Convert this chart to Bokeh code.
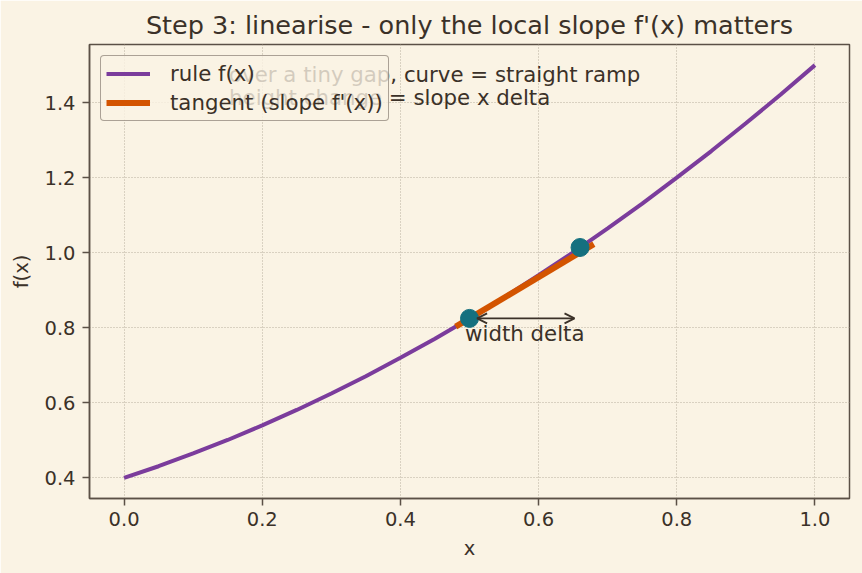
from bokeh.plotting import figure
from bokeh.models import Range1d, Arrow, OpenHead, Legend, LegendItem, FixedTicker, PrintfTickFormatter
from bokeh.core.properties import value
from bokeh.embed import file_html
from bokeh.resources import INLINE

# ---- data ----
curve_x = [0.00, 0.05, 0.10, 0.15, 0.20, 0.25, 0.30, 0.35, 0.40, 0.45, 0.50,
           0.55, 0.60, 0.65, 0.70, 0.75, 0.80, 0.85, 0.90, 0.95, 1.00]
curve_y = [0.400, 0.431, 0.465, 0.501, 0.540, 0.581, 0.625, 0.671, 0.720, 0.771, 0.825,
           0.881, 0.940, 1.001, 1.065, 1.131, 1.200, 1.271, 1.345, 1.421, 1.500]
tangent_x = [0.48, 0.68]
tangent_y = [0.803, 1.023]
point_x = [0.50, 0.66]
point_y = [0.825, 1.014]
x_ticks = [0.0, 0.2, 0.4, 0.6, 0.8, 1.0]
y_ticks = [0.4, 0.6, 0.8, 1.0, 1.2, 1.4]
note_lines = ["over a tiny gap, curve = straight ramp", "height change = slope x delta"]
delta_label = "width delta"

BG = "#faf3e4"
INK = "#3b3128"
SPINE = "#5b5046"
GRID = "#b9af9f"
FONT = "DejaVu Sans"

p = figure(width=862, height=573, output_backend="svg", toolbar_location=None,
           x_range=Range1d(-0.05, 1.05), y_range=Range1d(0.345, 1.555),
           min_border_left=89, min_border_right=13, min_border_top=44, min_border_bottom=75,
           title="Step 3: linearise - only the local slope f'(x) matters")

p.background_fill_color = BG
p.border_fill_color = BG
p.outline_line_color = SPINE
p.outline_line_width = 1.5

p.title.align = "center"
p.title.text_font = FONT
p.title.text_font_size = "25.5px"
p.title.text_font_style = "normal"
p.title.text_color = INK

for ax in (p.xaxis[0], p.yaxis[0]):
    ax.axis_line_color = SPINE
    ax.axis_line_width = 1.5
    ax.major_tick_line_color = SPINE
    ax.major_tick_line_width = 1.5
    ax.major_tick_out = 7
    ax.major_tick_in = 0
    ax.minor_tick_line_color = None
    ax.major_label_text_font = FONT
    ax.major_label_text_font_size = "19.5px"
    ax.major_label_text_color = INK
    ax.axis_label_text_font = FONT
    ax.axis_label_text_font_size = "19.5px"
    ax.axis_label_text_font_style = "normal"
    ax.axis_label_text_color = INK
    ax.formatter = PrintfTickFormatter(format="%.1f")

p.xaxis.ticker = FixedTicker(ticks=x_ticks)
p.yaxis.ticker = FixedTicker(ticks=y_ticks)
p.xaxis.axis_label = "x"
p.yaxis.axis_label = "f(x)"
p.xaxis.major_label_standoff = 6
p.yaxis.major_label_standoff = 7
p.xaxis.axis_label_standoff = 8
p.yaxis.axis_label_standoff = 8

for g in (p.xgrid[0], p.ygrid[0]):
    g.grid_line_color = GRID
    g.grid_line_dash = "1 2"
    g.grid_line_width = 1

# annotation text (behind legend)
p.text(x=[0.152, 0.152], y=[1.474, 1.413], text=note_lines,
       text_font=value(FONT), text_font_size="21.3px", text_color=INK,
       text_align="left", text_baseline="alphabetic")

r_curve = p.line(curve_x, curve_y, line_color="#7b3c9c", line_width=4)
r_tan = p.line(tangent_x, tangent_y, line_color="#d35400", line_width=6)

arrow = Arrow(x_start=point_x[0] + 0.011, y_start=point_y[0],
              x_end=point_x[1] - 0.008, y_end=point_y[0],
              start=OpenHead(size=10, line_color=INK, line_width=1.8),
              end=OpenHead(size=10, line_color=INK, line_width=1.8),
              line_color=INK, line_width=1.8)
p.add_layout(arrow)

p.scatter(point_x, point_y, size=18, fill_color="#15707f", line_color="#15707f", marker="circle")

p.text(x=[(point_x[0] + point_x[1]) / 2], y=[point_y[0] - 0.006], text=[delta_label],
       text_font=value(FONT), text_font_size="21.3px", text_color=INK,
       text_align="center", text_baseline="top")

legend = Legend(items=[LegendItem(label="rule f(x)", renderers=[r_curve]),
                       LegendItem(label="tangent (slope f'(x))", renderers=[r_tan])],
                location="top_left", margin=11, padding=5, spacing=4,
                glyph_width=44, glyph_height=25, label_standoff=20,
                label_text_font=FONT, label_text_font_size="21.3px", label_text_color=INK,
                background_fill_color=BG, background_fill_alpha=0.8,
                border_line_color=SPINE, border_line_width=1.3, border_radius=4)
p.add_layout(legend)

open("out.html", "w").write(file_html(p, INLINE))
